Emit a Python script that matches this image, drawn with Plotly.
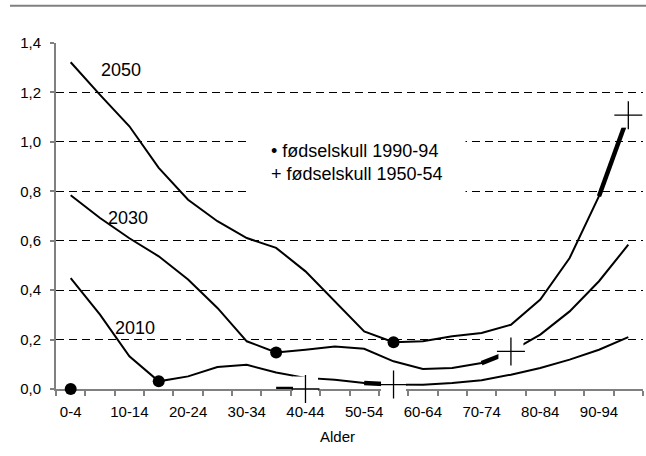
import plotly.graph_objects as go

# ---------------- data ----------------
age_groups = ['0-4', '5-9', '10-14', '15-19', '20-24', '25-29', '30-34', '35-39',
              '40-44', '45-49', '50-54', '55-59', '60-64', '65-69', '70-74',
              '75-79', '80-84', '85-89', '90-94', '95-99']
tick_labels = ['0-4', '', '10-14', '', '20-24', '', '30-34', '', '40-44', '',
               '50-54', '', '60-64', '', '70-74', '', '80-84', '', '90-94', '']

base_year = [0.0, 0.0, 0.0, 0.0, 0.0, 0.0, 0.0, 0.0, 0.0, 0.0,
             0.0, 0.0, 0.0, 0.0, 0.0, 0.0, 0.0, 0.0, 0.0, 0.0]
y2010 = [0.449, 0.301, 0.132, 0.031, 0.051, 0.089, 0.098, 0.067, 0.045, 0.037,
         0.024, 0.018, 0.017, 0.024, 0.035, 0.058, 0.085, 0.119, 0.159, 0.210]
y2030 = [0.784, 0.692, 0.610, 0.537, 0.443, 0.328, 0.193, 0.148, 0.159, 0.172,
         0.163, 0.112, 0.081, 0.085, 0.105, 0.152, 0.220, 0.314, 0.436, 0.584]
y2050 = [1.322, 1.190, 1.063, 0.895, 0.766, 0.679, 0.611, 0.571, 0.476, 0.355,
         0.233, 0.189, 0.193, 0.213, 0.227, 0.260, 0.362, 0.530, 0.780, 1.108]

series_names = ['base', '2010', '2030', '2050']
series_values = [base_year, y2010, y2030, y2050]
# age group of each birth cohort in each series
cohort_1990_94 = ['0-4', '15-19', '35-39', '55-59']
cohort_1950_54 = ['40-44', '55-59', '75-79', '95-99']

legend_lines = ['• fødselskull 1990-94', '+ fødselskull 1950-54']
x_title = 'Alder'

# ---------------- figure ----------------
FONT = 'Liberation Sans, Arial, sans-serif'
fig = go.Figure()

# thin curves
for name, vals in zip(series_names[1:], series_values[1:]):
    fig.add_trace(go.Scatter(x=age_groups, y=vals, mode='lines',
                             line=dict(color='black', width=2),
                             name=name, showlegend=False, hoverinfo='skip'))

# thick segments leading to the 1950-54 cohort
for vals, grp in zip(series_values, cohort_1950_54):
    k = age_groups.index(grp)
    fig.add_trace(go.Scatter(x=age_groups[k - 1:k + 1], y=vals[k - 1:k + 1],
                             mode='lines', line=dict(color='black', width=4.5),
                             showlegend=False, hoverinfo='skip', cliponaxis=False))

# 1950-54 cohort: white box + cross
px = [g for g in cohort_1950_54]
py = [vals[age_groups.index(g)] for vals, g in zip(series_values, cohort_1950_54)]
fig.add_trace(go.Scatter(x=px, y=py, mode='markers',
                         marker=dict(symbol='square', size=25, color='white',
                                     line=dict(width=0)),
                         showlegend=False, hoverinfo='skip', cliponaxis=False))
fig.add_trace(go.Scatter(x=px, y=py, mode='markers',
                         marker=dict(symbol='cross-thin', size=20, color='black',
                                     line=dict(width=1.3, color='black')),
                         showlegend=False, hoverinfo='skip', cliponaxis=False))

# 1990-94 cohort: dots
dx = [g for g in cohort_1990_94]
dy = [vals[age_groups.index(g)] for vals, g in zip(series_values, cohort_1990_94)]
fig.add_trace(go.Scatter(x=dx, y=dy, mode='markers',
                         marker=dict(symbol='circle', size=12, color='black'),
                         showlegend=False, hoverinfo='skip', cliponaxis=False))

# curve labels
for txt, xx, yy in [('2050', 1.72, 1.29), ('2030', 1.95, 0.692), ('2010', 2.19, 0.245)]:
    fig.add_annotation(x=xx, y=yy, xref='x', yref='y', text=txt, showarrow=False,
                       font=dict(family=FONT, size=18, color='black'))

# legend text box
fig.add_annotation(x=0.512, y=0.656, xref='paper', yref='paper',
                   text='<br>'.join(legend_lines), showarrow=False, align='left',
                   bgcolor='white', borderpad=22,
                   font=dict(family=FONT, size=18, color='black'))

# x title
fig.add_annotation(x=0.4796, y=-0.138, xref='paper', yref='paper', text=x_title,
                   showarrow=False, yanchor='middle',
                   font=dict(family=FONT, size=15, color='black'))

# top rule
fig.add_shape(type='line', xref='paper', yref='paper', x0=-0.0784, x1=1.01,
              y0=1.1078, y1=1.1078, line=dict(color='#808080', width=2))

fig.update_layout(
    width=646, height=456,
    margin=dict(l=56, r=3, t=43, b=67, autoexpand=False),
    paper_bgcolor='white', plot_bgcolor='white',
    separators=', ',
    showlegend=False,
    font=dict(family=FONT, size=15, color='black'),
    xaxis=dict(type='category', categoryorder='array', categoryarray=age_groups,
               tickmode='array', tickvals=age_groups, ticktext=tick_labels,
               tickson='boundaries', ticks='outside', ticklen=5, tickwidth=1.5,
               tickcolor='#808080', showline=True, linecolor='#808080', linewidth=2,
               showgrid=False, zeroline=False, range=[-0.5, 19.5],
               tickangle=0, automargin=False, ticklabelstandoff=8,
               layer='below traces', tickfont=dict(size=15)),
    yaxis=dict(range=[0, 1.4], tickmode='linear', tick0=0, dtick=0.2,
               tickformat='.1f', showgrid=True, gridcolor='black', gridwidth=1,
               griddash='8px,5px', showline=True, linecolor='#808080', linewidth=2,
               ticks='outside', ticklen=4, tickwidth=1.5, tickcolor='#808080',
               automargin=False, ticklabelstandoff=6,
               zeroline=False, layer='below traces', tickfont=dict(size=15)),
)

fig.write_html('out.html', config={'displayModeBar': False},
               post_script="document.body.style.margin='0';document.body.style.padding='0';")
